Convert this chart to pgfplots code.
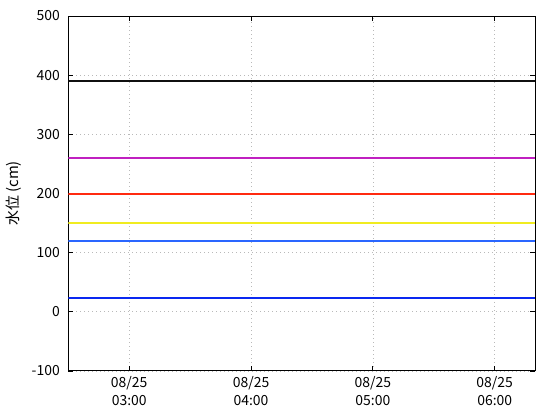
\documentclass[border=0pt]{standalone}
\usepackage{pgfplots}
\pgfplotsset{compat=1.18}
\usepackage{fontspec}
\setmainfont{Noto Sans CJK JP}

\definecolor{lvblack}{HTML}{101010}
\definecolor{lvmagenta}{HTML}{C020C0}
\definecolor{lvred}{HTML}{FF2A10}
\definecolor{lvyellow}{HTML}{F0EC20}
\definecolor{lvlblue}{HTML}{2A66FF}
\definecolor{lvblue}{HTML}{0A28F0}

\begin{document}
\begin{tikzpicture}
    \begin{axis}[
        at={(0,0)}, anchor=south west,
        scale only axis,
        width=467bp, height=355bp,
        xmin=2.5, xmax=6.3333,
        ymin=-100, ymax=500,
        ytick distance=100,
        xtick={3,4,5,6},
        xticklabels={{08/25\\03:00},{08/25\\04:00},{08/25\\05:00},{08/25\\06:00}},
        xticklabel style={align=center, font=\fontsize{14}{18}\selectfont, yshift=-2bp},
        yticklabel style={font=\fontsize{14}{16}\selectfont, xshift=-5bp},
        /pgf/number format/assume math mode=true,
        tick align=inside,
        major tick length=5bp,
        tick style={black, line width=0.8bp},
        axis line style={line width=1bp},
        grid=major,
        grid style={dash pattern=on 1bp off 3bp, gray!55, line width=0.7bp},
        ylabel={水位 (cm)},
        ylabel shift=3bp,
        ylabel style={font=\fontsize{15}{17}\selectfont},
        every axis plot/.append style={line width=2bp},
        ]
        \addplot[lvblack] coordinates {(2.5,390)(6.3333,390)};
        \addplot[lvmagenta] coordinates {(2.5,260)(6.3333,260)};
        \addplot[lvred] coordinates {(2.5,200)(6.3333,200)};
        \addplot[lvyellow] coordinates {(2.5,150)(6.3333,150)};
        \addplot[lvlblue] coordinates {(2.5,120)(6.3333,120)};
        \addplot[lvblue] coordinates {(2.5,23)(6.3333,23)};
    \end{axis}
    \useasboundingbox (-68.3bp,-49bp) rectangle (491.7bp,371bp);
\end{tikzpicture}
\end{document}
